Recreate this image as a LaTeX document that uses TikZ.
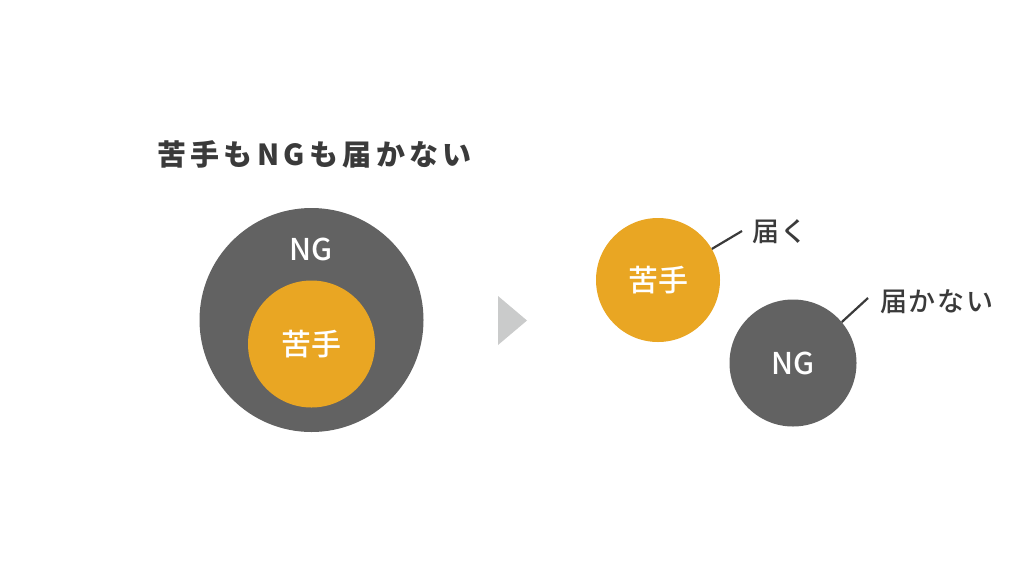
\documentclass[tikz,border=0pt]{standalone}
\usepackage{fontspec}
\setmainfont{Noto Sans CJK JP}
\IfFontExistsTF{NotoSansCJKjp-Medium}
  {\newfontfamily\medfont{NotoSansCJKjp-Medium}}
  {\newcommand\medfont{\normalfont}}
\usepackage{xcolor}
\usepackage{tikz}
\usetikzlibrary{positioning}

\definecolor{ngGray}{HTML}{626262}
\definecolor{nigateOrange}{HTML}{E9A623}
\definecolor{textDark}{HTML}{3A3A3A}
\definecolor{arrowGray}{HTML}{CACBCB}

\begin{document}
\begin{tikzpicture}[x=1pt,y=-1pt,
  disk/.style={circle,inner sep=0pt,draw=none},
  in label/.style={text=white,font=\medfont\fontsize{30}{30}\selectfont,inner sep=0pt},
  side label/.style={text=textDark,font=\medfont\fontsize{27}{27}\selectfont\addfontfeature{LetterSpace=6},inner sep=0pt,anchor=west},
  link/.style={draw=textDark,line width=2.2pt}]

  \useasboundingbox (0,0) rectangle (1024,576);

  % title
  \node[anchor=west,inner sep=0pt,text=textDark,
    font=\fontsize{29}{29}\selectfont\bfseries\addfontfeature{LetterSpace=15}]
    (title) at (157,154) {苦手もNGも届かない};

  % left: NG contains 苦手
  \node[disk,fill=ngGray,minimum size=224pt] (ngBig) at (311.5,320) {};
  \node[in label] (ngBigText) at (311.5,249) {NG};
  \node[disk,fill=nigateOrange,minimum size=127pt] (nigateIn) at (311.5,344) {};
  \node[in label] (nigateInText) at (nigateIn) {苦手};

  % arrow
  \fill[arrowGray] (498,296) -- (527,320.5) -- (498,345) -- cycle;

  % right: separated
  \node[disk,fill=nigateOrange,minimum size=124pt,in label] (nigateOut) at (658,280) {苦手};
  \node[disk,fill=ngGray,minimum size=127pt,in label] (ngOut) at (793,363) {NG};

  \node[side label] (reach) at (752,232) {届く};
  \node[side label] (noReach) at (880,302) {届かない};

  \draw[link] (nigateOut.30) -- ([xshift=-10pt,yshift=1pt]reach.west);
  \draw[link] (ngOut.40) -- ([xshift=-12pt,yshift=4pt]noReach.west);
\end{tikzpicture}
\end{document}
